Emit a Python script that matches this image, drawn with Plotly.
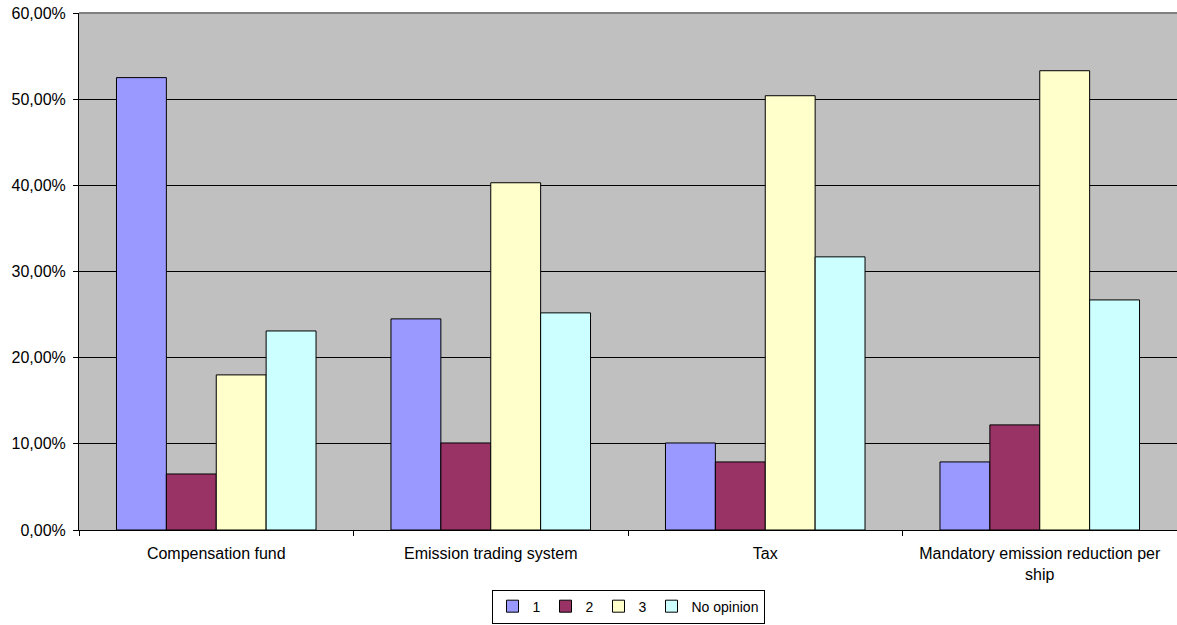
import plotly.graph_objects as go

categories = ["Compensation fund", "Emission trading system", "Tax",
              "Mandatory emission reduction per<br>ship"]
series_names = ["1", "2", "3", "No opinion"]
values_1 = [0.525, 0.245, 0.101, 0.079]
values_2 = [0.065, 0.101, 0.079, 0.122]
values_3 = [0.180, 0.403, 0.504, 0.533]
values_no = [0.231, 0.252, 0.317, 0.267]
colors = ["#9999FF", "#993366", "#FFFFCC", "#CCFFFF"]

fig = go.Figure()
for name, vals, col in zip(series_names, [values_1, values_2, values_3, values_no], colors):
    fig.add_trace(go.Bar(
        name=name, x=categories, y=vals,
        marker=dict(color=col, line=dict(color="black", width=1)),
    ))

fig.update_layout(
    width=1177, height=625,
    margin=dict(l=79, r=0, t=13, b=95),
    barmode="group", bargap=0.273, bargroupgap=0,
    plot_bgcolor="#C0C0C0", paper_bgcolor="white",
    separators=",.",
    font=dict(family="Liberation Sans, Arial, sans-serif", size=16, color="black"),
    showlegend=True,
    legend=dict(orientation="h", x=0.5, xanchor="center", y=-0.181, yanchor="bottom",
                bordercolor="black", borderwidth=1, font=dict(size=14),
                itemwidth=30, tracegroupgap=0, traceorder="normal"),
    shapes=[dict(type="line", xref="paper", yref="paper", x0=0, x1=1, y0=1, y1=1,
                 line=dict(color="#808080", width=2))],
)
fig.update_xaxes(
    type="category", tickson="boundaries", ticks="outside", ticklen=5,
    tickcolor="black", showline=True, linecolor="black", linewidth=1,
    showgrid=False, tickfont=dict(size=16), ticklabelstandoff=9,
)
fig.update_yaxes(
    range=[0, 0.6], dtick=0.1, tickformat=".2%", ticks="outside", ticklen=5,
    tickcolor="black", showline=True, linecolor="black", linewidth=1,
    showgrid=True, gridcolor="black", gridwidth=1, zeroline=False,
    tickfont=dict(size=16), ticklabelstandoff=4,
)

fig.write_html("out.html", config={"displayModeBar": False},
               post_script="document.body.style.margin='0';")
